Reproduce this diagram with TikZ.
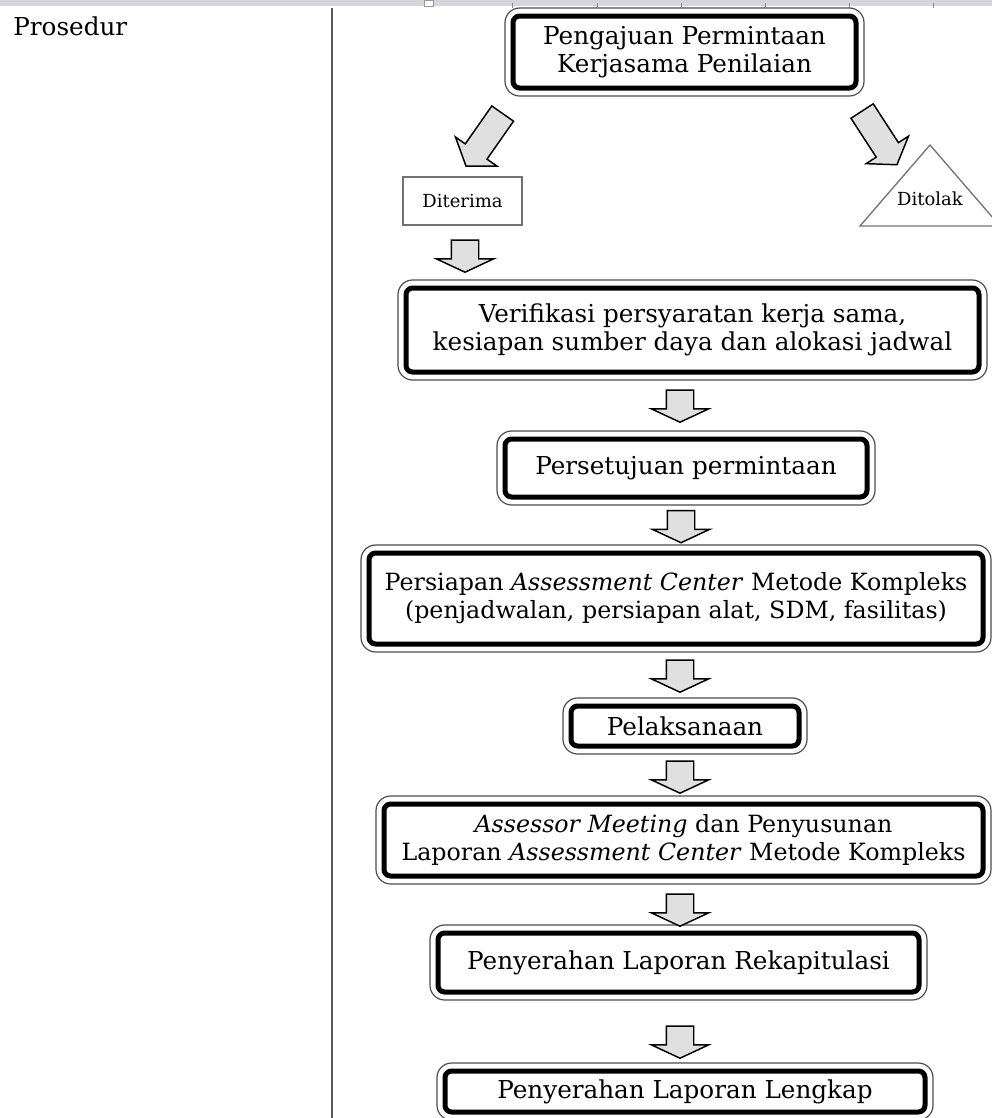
\documentclass[tikz,border=0pt]{standalone}
\usepackage{fontspec}
\setmainfont{DejaVu Serif}
\usetikzlibrary{shapes.arrows,calc}
\newcommand\mfnt{\fontsize{18.5}{21}\selectfont}
\newcommand\nfnt{\fontsize{17.8}{21}\selectfont}
\newcommand\sfnt{\fontsize{13.5}{16}\selectfont}
\definecolor{strip}{HTML}{D4D6DE}
\tikzset{
  mbox/.style 2 args={draw=black, line width=3.75pt, rounded corners=5pt, fill=white,
    align=center, inner sep=0pt, outer sep=0pt,
    minimum width=#1*0.75pt, minimum height=#2*0.75pt, font=\mfnt},
  outerline/.style={draw=black!70, line width=0.9pt, rounded corners=11pt},
  darrow/.style={single arrow, draw=black, line width=1.1pt, fill=black!12,
    minimum height=24pt, minimum width=42pt, single arrow head extend=11.25pt,
    single arrow tip angle=130, inner xsep=0pt, inner ysep=9.75pt, outer sep=0pt},
  dgarrow/.style={single arrow, draw=black, line width=1.1pt, fill=black!12,
    minimum height=48pt, minimum width=37pt, single arrow head extend=9pt,
    single arrow tip angle=110, inner xsep=0pt, inner ysep=9.4pt, outer sep=0pt},
  smallbox/.style={draw=black!55, line width=1pt, inner sep=0pt, outer sep=0pt, font=\sfnt},
  tri/.style={draw=black!55, line width=1pt}
}
\begin{document}
\begin{tikzpicture}[x=0.75pt,y=-0.75pt]
\useasboundingbox (0,0) rectangle (992,1118);
% top strip and ruler ticks
\fill[strip] (0,0) rectangle (992,6);
\foreach \t in {512,597,681,765,849,933} \draw[black!45, line width=0.75pt] (\t,3) -- (\t,8);
\draw[black!40, fill=white, line width=0.6pt] (424,0) rectangle (433,6);
% column separator
\draw[black!65, line width=1.2pt] (332,8) -- (332,1118);
\node[anchor=base west, font=\mfnt, inner sep=0pt] (pros) at (13,35) {Prosedur};

% main boxes
\node[mbox={343}{72}] (b1) at (684.5,52) {Pengajuan Permintaan\\Kerjasama Penilaian};
\node[mbox={573}{84}] (b2) at (692.5,330) {Verifikasi persyaratan kerja sama,\\kesiapan sumber daya dan alokasi jadwal};
\node[mbox={362}{58}] (b3) at (686,468) {Persetujuan permintaan};
\node[mbox={614}{91}, font=\nfnt] (b4) at (676,598.5) {Persiapan \textit{Assessment Center} Metode Kompleks\\(penjadwalan, persiapan alat, SDM, fasilitas)};
\node[mbox={228}{40}] (b5) at (685,726) {Pelaksanaan};
\node[mbox={599}{72}, font=\nfnt] (b6) at (683.5,840) {\textit{Assessor Meeting} dan Penyusunan\\Laporan \textit{Assessment Center} Metode Kompleks};
\node[mbox={481}{59}] (b7) at (678.5,962.5) {Penyerahan Laporan Rekapitulasi};
\node[mbox={480}{41}] (b8) at (685,1091.5) {Penyerahan Laporan Lengkap};
\foreach \n in {b1,b2,b3,b4,b5,b6,b7,b8}
  \draw[outerline] ($(\n.south west)+(-8,8)$) rectangle ($(\n.north east)+(8,-8)$);

% decision outcomes
\node[smallbox, minimum width=89.25pt, minimum height=36pt] (dit) at (462.5,201) {Diterima};
\draw[tri] (930,145) -- (860,226) -- (1000,226) -- cycle;
\node[font=\sfnt, inner sep=0pt] (tol) at (930,199) {Ditolak};

% block arrows
\node[dgarrow, rotate=-125] (aL) at (487,136) {};
\node[dgarrow, rotate=-57] (aR) at (877,134) {};
\node[darrow, rotate=-90] (a1) at (465,253) {};
\node[darrow, rotate=-90] (a2) at (680,403) {};
\node[darrow, rotate=-90] (a3) at (681,523.5) {};
\node[darrow, rotate=-90] (a4) at (680,673) {};
\node[darrow, rotate=-90] (a5) at (680,774) {};
\node[darrow, rotate=-90] (a6) at (680,907) {};
\node[darrow, rotate=-90] (a7) at (680,1039) {};
\end{tikzpicture}
\end{document}
